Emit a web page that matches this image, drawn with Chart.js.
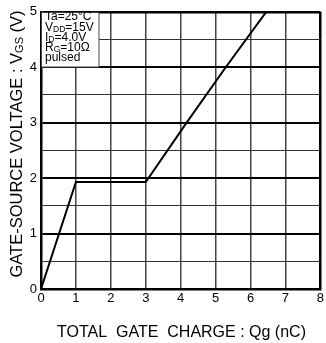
<!DOCTYPE html>
<html>
<head>
<meta charset="utf-8">
<script src="https://cdn.jsdelivr.net/npm/chart.js@4"></script>
<style>
  html, body { margin: 0; padding: 0; background: #fff; }
  #wrap { width: 326px; height: 343px; }
</style>
</head>
<body>
<div id="wrap"><canvas id="qgChart" width="326" height="343"></canvas></div>
<script>
// gate charge curve
const chargeNc = [0, 1, 3, 4.17, 5.29, 6.45];
const gateVolts = [0, 1.93, 1.93, 3, 4, 5];
const xTicks = [0, 1, 2, 3, 4, 5, 6, 7, 8];
const yTicks = [0, 1, 2, 3, 4, 5];
const conditions = [
    ['Ta=25°C', ''],
    ['V', 'DD', '=15V'],
    ['I', 'D', '=4.0V'],
    ['R', 'G', '=10Ω'],
    ['pulsed', '']
];

const FONT = '"Liberation Sans", Arial, sans-serif';

// draws text with a small subscript part, returns end x
function drawSub(ctx, parts, x, y, size, subSize) {
    ctx.font = size + 'px ' + FONT;
    ctx.fillText(parts[0], x, y);
    x += ctx.measureText(parts[0]).width;
    if (parts[1]) {
        ctx.font = subSize + 'px ' + FONT;
        ctx.fillText(parts[1], x, y + 1);
        x += ctx.measureText(parts[1]).width;
    }
    if (parts[2]) {
        ctx.font = size + 'px ' + FONT;
        ctx.fillText(parts[2], x, y);
        x += ctx.measureText(parts[2]).width;
    }
    return x;
}

function partsWidth(ctx, parts, size, subSize) {
    ctx.font = size + 'px ' + FONT;
    let w = ctx.measureText(parts[0]).width + ctx.measureText(parts[2] || '').width;
    ctx.font = subSize + 'px ' + FONT;
    w += ctx.measureText(parts[1] || '').width;
    return w;
}

const decorations = {
    id: 'decorations',
    afterDatasetsDraw(chart) {
        const ctx = chart.ctx;
        const area = chart.chartArea;
        ctx.save();
        ctx.fillStyle = '#000';
        ctx.textAlign = 'left';
        ctx.textBaseline = 'alphabetic';

        // conditions box
        const bx = area.left + 1, by = area.top + 1;
        ctx.fillStyle = '#fff';
        ctx.fillRect(bx, by, 99 - bx, 67 - by);
        ctx.strokeStyle = '#444';
        ctx.lineWidth = 1;
        ctx.strokeRect(bx - 0.5, by - 0.5, 99.5 - bx, 67.5 - by);
        ctx.fillStyle = '#000';
        const baselines = [20, 30.5, 40.5, 51, 61];
        conditions.forEach((c, i) => drawSub(ctx, c, 45, baselines[i], 12, 8.5));

        // x axis title
        const xt = ['TOTAL  GATE  CHARGE : Qg (nC)', '', ''];
        const xw = partsWidth(ctx, xt, 16, 11);
        drawSub(ctx, xt, 181.5 - xw / 2, 337, 16, 11);

        // y axis title, rotated
        const yt = ['GATE-SOURCE VOLTAGE : V', 'GS', ' (V)'];
        const yw = partsWidth(ctx, yt, 16.5, 11);
        ctx.translate(22, 144);
        ctx.rotate(-Math.PI / 2);
        drawSub(ctx, yt, -yw / 2, 0, 16.5, 11);
        ctx.restore();
    }
};

new Chart(document.getElementById('qgChart'), {
    type: 'scatter',
    data: {
        datasets: [{
            data: chargeNc.map((x, i) => ({ x: x, y: gateVolts[i] })),
            showLine: true,
            borderColor: '#000',
            borderWidth: 2,
            pointRadius: 0,
            tension: 0
        }]
    },
    options: {
        responsive: false,
        animation: false,
        layout: { padding: { top: 7, right: 5, left: 0, bottom: 0 } },
        plugins: {
            legend: { display: false },
            tooltip: { enabled: false }
        },
        scales: {
            x: {
                type: 'linear',
                min: 0,
                max: 8,
                afterFit(s) { s.height = 54; },
                afterBuildTicks(s) { s.ticks = xTicks.map(v => ({ value: v })); },
                ticks: {
                    color: '#000',
                    font: { family: FONT, size: 13 },
                    padding: 2
                },
                grid: {
                    drawTicks: false,
                    color: ctx => ctx.tick && ctx.tick.value === 8 ? '#000' : '#444',
                    lineWidth: ctx => ctx.tick && ctx.tick.value === 8 ? 2.5 : 1.5
                },
                border: { color: '#000', width: 2.5 }
            },
            y: {
                type: 'linear',
                min: 0,
                max: 5,
                afterFit(s) { s.width = 41; },
                afterBuildTicks(s) {
                    const t = [];
                    for (let v = 0; v <= 10; v++) t.push({ value: v / 2 });
                    s.ticks = t;
                },
                ticks: {
                    color: '#000',
                    font: { family: FONT, size: 13 },
                    padding: 4,
                    autoSkip: false,
                    callback: v => yTicks.includes(v) ? String(v) : ''
                },
                grid: {
                    drawTicks: false,
                    color: ctx => ctx.tick && Number.isInteger(ctx.tick.value) ? '#000' : '#333',
                    lineWidth: ctx => {
                        if (!ctx.tick) return 1;
                        if (ctx.tick.value === 5) return 2.5;
                        return Number.isInteger(ctx.tick.value) ? 2 : 1;
                    }
                },
                border: { color: '#000', width: 2.5 }
            }
        }
    },
    plugins: [decorations]
});
</script>
</body>
</html>
